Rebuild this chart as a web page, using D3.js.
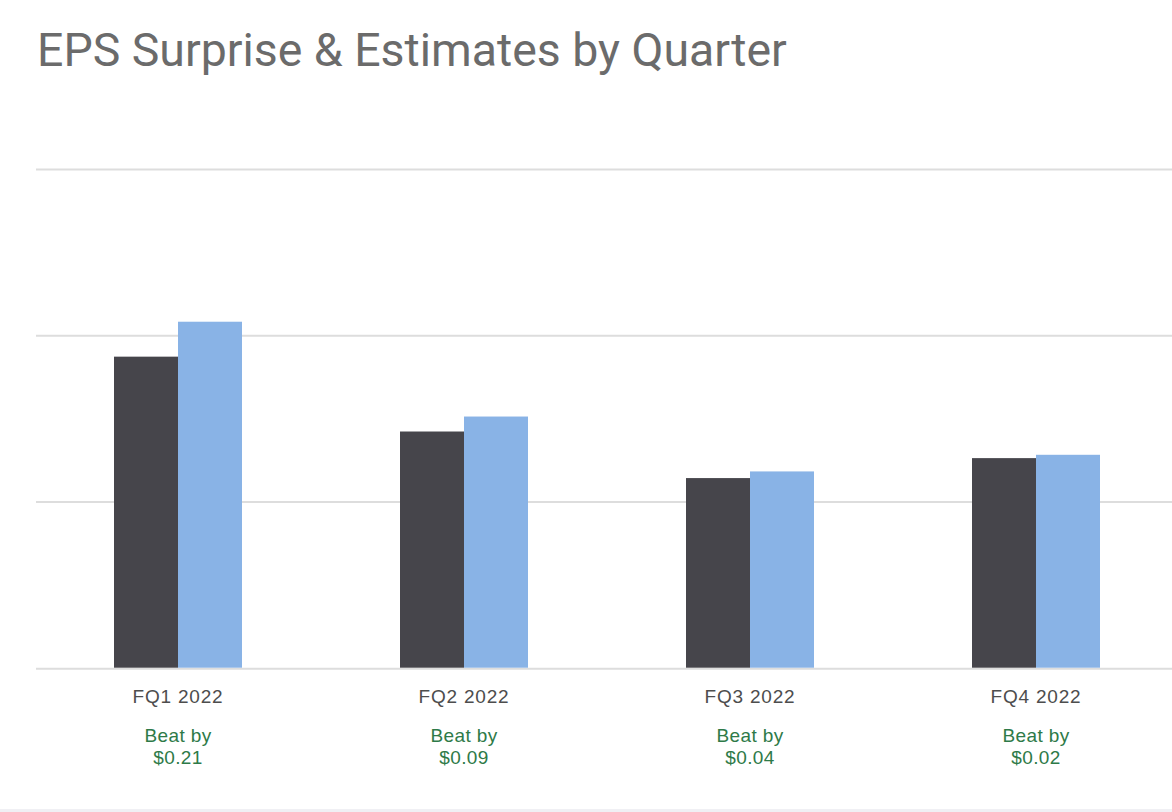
<!DOCTYPE html>
<html>
<head>
<meta charset="utf-8">
<script src="https://cdn.jsdelivr.net/npm/d3@7"></script>
<style>
  html, body { margin: 0; padding: 0; background: #fff; }
  svg { display: block; }
</style>
</head>
<body>
<svg id="chart" width="1172" height="812"></svg>
<script>
const quarters = ["FQ1 2022", "FQ2 2022", "FQ3 2022", "FQ4 2022"];
const seriesNames = ["Estimate", "Actual"];
const estimates = [1.87, 1.42, 1.14, 1.26];
const actuals = [2.08, 1.51, 1.18, 1.28];
const beats = [0.21, 0.09, 0.04, 0.02];
const yTicks = [0, 1, 2, 3];
const title = "EPS Surprise & Estimates by Quarter";

const colors = { Estimate: "#46454b", Actual: "#89b3e6" };

const svg = d3.select("#chart");
const W = 1172, H = 812;

// title
const t = svg.append("text")
  .attr("x", 37).attr("y", 66)
  .attr("fill", "#6b6b6b")
  .style("font-family", "Roboto, 'Liberation Sans', Arial, sans-serif")
  .style("font-size", "40px")
  .text(title);
const tw = t.node().getComputedTextLength();
t.style("font-size", (40 * 750 / tw) + "px");

const x0 = d3.scaleBand().domain(quarters).range([35, 35 + 4 * 286]).padding(0);
const x1 = d3.scaleBand().domain(seriesNames)
  .range([x0.bandwidth() / 2 - 64, x0.bandwidth() / 2 + 64]).padding(0);
const y = d3.scaleLinear().domain([0, 3]).range([667.7, 168.7]);

// gridlines
svg.append("g").selectAll("line").data(yTicks).join("line")
  .attr("x1", 36).attr("x2", W)
  .attr("y1", d => y(d) + (d === 0 ? 1 : 0.7))
  .attr("y2", d => y(d) + (d === 0 ? 1 : 0.7))
  .attr("stroke", "#dddddd").attr("stroke-width", 2);

const data = quarters.map((q, i) => ({ q, Estimate: estimates[i], Actual: actuals[i], beat: beats[i] }));

const groups = svg.append("g").selectAll("g").data(data).join("g")
  .attr("transform", d => `translate(${x0(d.q)},0)`);

groups.selectAll("rect").data(d => seriesNames.map(s => ({ s, v: d[s] }))).join("rect")
  .attr("x", d => x1(d.s))
  .attr("width", x1.bandwidth())
  .attr("y", d => y(d.v))
  .attr("height", d => y(0) - y(d.v))
  .attr("fill", d => colors[d.s]);

// x labels
const labelFont = "'Liberation Sans', Arial, sans-serif";
groups.append("text")
  .attr("x", x0.bandwidth() / 2).attr("y", 703)
  .attr("text-anchor", "middle")
  .attr("fill", "#4d4d4d")
  .style("font-family", labelFont).style("font-size", "19px")
  .style("letter-spacing", "0.8px")
  .text(d => d.q);

groups.append("text")
  .attr("x", x0.bandwidth() / 2).attr("y", 742)
  .attr("text-anchor", "middle")
  .attr("fill", "#2e7a48")
  .style("font-family", labelFont).style("font-size", "19px")
  .style("letter-spacing", "0.4px")
  .text("Beat by");

groups.append("text")
  .attr("x", x0.bandwidth() / 2).attr("y", 764)
  .attr("text-anchor", "middle")
  .attr("fill", "#2e7a48")
  .style("font-family", labelFont).style("font-size", "19px")
  .style("letter-spacing", "0.4px")
  .text(d => "$" + d3.format(".2f")(d.beat));

// bottom strip
svg.append("rect").attr("x", 0).attr("y", 809).attr("width", W).attr("height", 3).attr("fill", "#f0f0f4");
</script>
</body>
</html>
